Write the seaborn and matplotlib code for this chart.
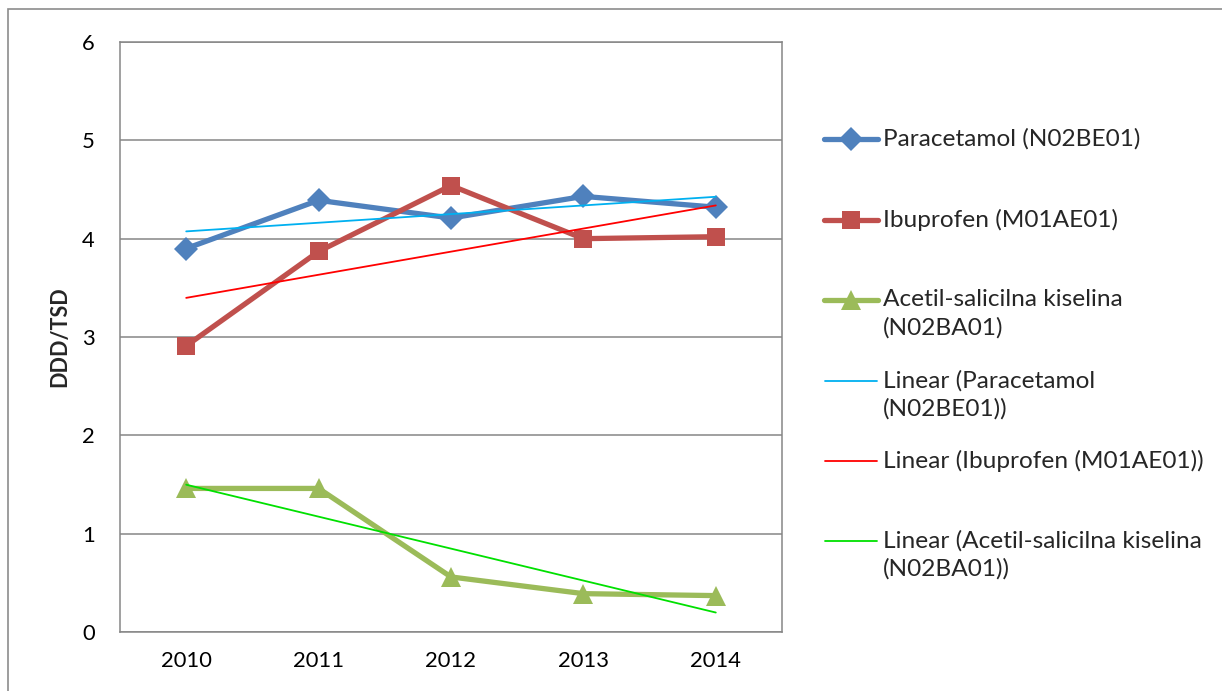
import pandas as pd
import matplotlib.pyplot as plt
from matplotlib.lines import Line2D
from matplotlib.patches import Rectangle
import seaborn as sns

# data
years = [2010, 2011, 2012, 2013, 2014]
paracetamol = [3.90, 4.39, 4.21, 4.43, 4.32]
ibuprofen = [2.91, 3.87, 4.54, 4.00, 4.02]
acetil = [1.46, 1.46, 0.56, 0.39, 0.37]

series_names = ['Paracetamol (N02BE01)', 'Ibuprofen (M01AE01)',
                'Acetil-salicilna kiselina\n(N02BA01)']
trend_names = ['Linear (Paracetamol\n(N02BE01))', 'Linear (Ibuprofen (M01AE01))',
               'Linear (Acetil-salicilna kiselina\n(N02BA01))']
y_label = 'DDD/TSD'

colors = ['#4F81BD', '#C0504D', '#9BBB59']
trend_colors = ['#00B0F0', '#FF0000', '#00E000']
markers = ['D', 's', '^']
marker_sizes = [12, 13, 14]

sns.set_style('white')
plt.rcParams['font.family'] = ['Lato', 'DejaVu Sans']

W, H = 1222, 691
fig = plt.figure(figsize=(W / 100, H / 100), dpi=100)


def fx(px):
    return px / W


def fy(py):
    return 1 - py / H


ax = fig.add_axes([fx(120), fy(632), fx(662), 590 / H])

values = [paracetamol, ibuprofen, acetil]
for vals, c, m, ms in zip(values, colors, markers, marker_sizes):
    df = pd.DataFrame({'year': years, 'value': vals})
    sns.lineplot(data=df, x='year', y='value', color=c, linewidth=3.8,
                 marker=m, markersize=ms, markeredgewidth=0, ax=ax, zorder=3)

# linear trend lines
for vals, c in zip(values, trend_colors):
    sns.regplot(x=years, y=vals, scatter=False, ci=None, truncate=True,
                line_kws=dict(color=c, linewidth=1.3, zorder=4), ax=ax)

ax.set_xlim(2009.5, 2014.5)
ax.set_ylim(0, 6)
ax.set_xticks(years)
ax.set_xticklabels([str(y) for y in years])
ax.set_yticks(range(0, 7))
ax.yaxis.grid(True, color='#868686', linewidth=1.1)
ax.set_axisbelow(True)
for s in ax.spines.values():
    s.set_color('#868686')
    s.set_linewidth(1.1)
ax.tick_params(axis='both', length=0, labelsize=15.8, colors='black')
ax.tick_params(axis='y', pad=18)
ax.tick_params(axis='x', pad=14)
ax.set_xlabel('')
ax.set_ylabel('')
fig.text(fx(60), fy(337), y_label, rotation=90, ha='center', va='center',
         fontsize=15.5, fontweight='bold')

# legend drawn by hand, Excel style
row_y = [139, 219.5, 300, 380.5, 461, 541]
labels = series_names + trend_names
for i, lab in enumerate(labels):
    y = fy(row_y[i])
    if i < 3:
        h = Line2D([fx(824), fx(851), fx(878)], [y, y, y], color=colors[i], lw=3.8,
                   marker=markers[i], markersize=marker_sizes[i], markeredgewidth=0,
                   markevery=[1], transform=fig.transFigure)
    else:
        h = Line2D([fx(825), fx(877)], [y, y], color=trend_colors[i - 3], lw=1.3,
                   transform=fig.transFigure)
    fig.add_artist(h)
    for k, line in enumerate(lab.split('\n')):
        fig.text(fx(883), fy(row_y[i] + 28 * k), line, ha='left', va='center',
                 fontsize=17.6)

# outer chart border
fig.add_artist(Rectangle((fx(8), -0.1), 1.2, fy(9) + 0.1, transform=fig.transFigure,
                         fill=False, edgecolor='#8c8c8c', linewidth=1.2))

fig.savefig('out.png', dpi=100)
